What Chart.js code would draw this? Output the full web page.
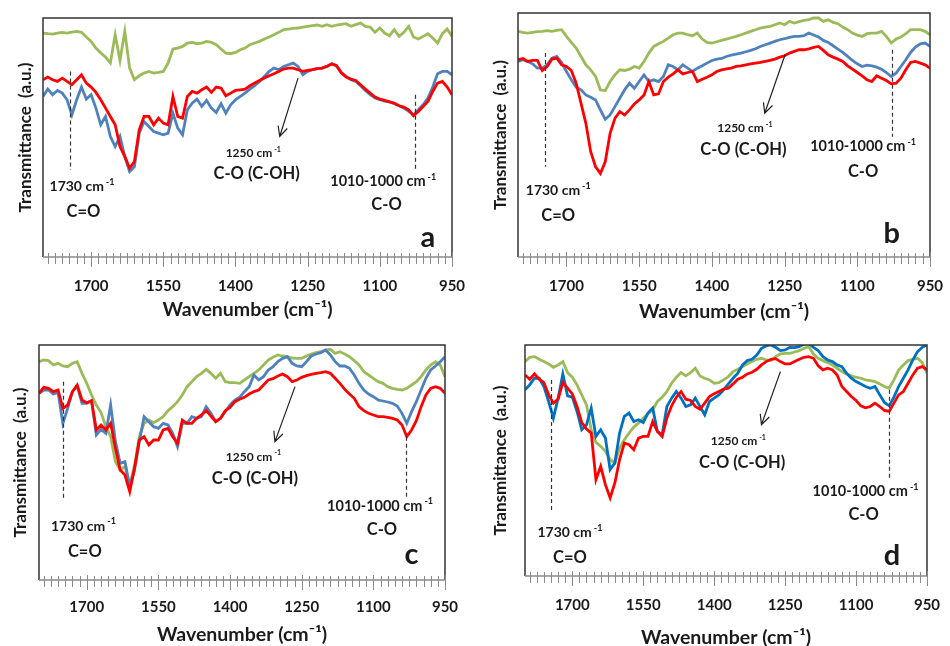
<!DOCTYPE html>
<html>
<head>
<meta charset="utf-8">
<script src="https://cdn.jsdelivr.net/npm/chart.js@4.4.0/dist/chart.umd.min.js"></script>
<style>
  body { margin: 0; background: #fff; }
  #wrap { position: relative; width: 950px; height: 646px; }
  .panel { position: absolute; width: 475px; height: 323px; }
</style>
</head>
<body>
<div id="wrap">
  <div class="panel" style="left:0;top:0"><canvas id="chartA" width="475" height="323"></canvas></div>
  <div class="panel" style="left:475px;top:0"><canvas id="chartB" width="475" height="323"></canvas></div>
  <div class="panel" style="left:0;top:323px"><canvas id="chartC" width="475" height="323"></canvas></div>
  <div class="panel" style="left:475px;top:323px"><canvas id="chartD" width="475" height="323"></canvas></div>
</div>
<script>
// wavenumber (cm-1) of every sample, left to right
const wavenumbers = [1800, 1790, 1780, 1770, 1760, 1750, 1740, 1730, 1720, 1710,
  1700, 1690, 1680, 1670, 1660, 1650, 1640, 1630, 1620, 1610,
  1600, 1590, 1580, 1570, 1560, 1550, 1540, 1530, 1520, 1510,
  1500, 1490, 1480, 1470, 1460, 1450, 1440, 1430, 1420, 1410,
  1400, 1390, 1380, 1370, 1360, 1350, 1340, 1330, 1320, 1310,
  1300, 1290, 1280, 1270, 1260, 1250, 1240, 1230, 1220, 1210,
  1200, 1190, 1180, 1170, 1160, 1150, 1140, 1130, 1120, 1110,
  1100, 1090, 1080, 1070, 1060, 1050, 1040, 1030, 1020, 1010,
  1000, 990, 980, 970, 960, 950];

const tickLabels = [1700, 1550, 1400, 1250, 1100, 950];

// transmittance, arbitrary units
const redA = [56.0, 56.8, 56.0, 55.5, 56.5, 55.5, 54.5, 56.0, 57.5, 55.0, 53.8, 52.2, 50.0, 47.5, 45.0, 42.5, 36.0, 33.0, 29.5, 31.5, 41.0, 45.0, 45.0, 42.5, 44.5, 43.0, 42.5, 51.0, 45.0, 44.5, 51.0, 52.5, 52.0, 53.0, 53.8, 52.2, 53.8, 53.5, 51.2, 52.0, 52.8, 53.0, 53.2, 54.2, 55.0, 55.8, 56.5, 57.2, 57.8, 58.5, 59.2, 59.5, 59.5, 59.0, 58.5, 58.8, 59.0, 59.3, 59.5, 60.0, 60.8, 60.2, 58.0, 56.8, 56.2, 55.8, 54.5, 53.2, 52.0, 50.8, 50.2, 49.8, 49.4, 49.0, 48.2, 47.8, 47.0, 45.2, 46.5, 48.0, 49.5, 52.5, 55.0, 55.5, 53.8, 51.5];
const blueA = [51.0, 53.2, 51.5, 52.8, 52.0, 50.0, 45.5, 50.0, 53.8, 50.2, 51.5, 47.5, 42.5, 45.0, 39.0, 36.0, 39.0, 33.0, 28.5, 30.0, 40.0, 43.5, 42.0, 40.5, 40.0, 39.5, 40.0, 46.0, 41.5, 39.5, 47.0, 49.0, 50.2, 48.0, 49.8, 47.5, 46.2, 48.8, 46.0, 48.5, 50.0, 51.0, 52.0, 53.2, 54.2, 55.5, 57.0, 58.5, 59.5, 59.0, 60.0, 60.5, 61.0, 60.0, 57.5, 58.5, 59.0, 59.3, 59.5, 60.0, 60.8, 60.2, 58.2, 57.0, 56.0, 55.5, 54.2, 52.8, 51.5, 50.5, 50.0, 49.6, 49.4, 48.8, 48.2, 47.5, 46.5, 45.5, 47.0, 48.5, 50.5, 53.8, 57.8, 58.5, 58.5, 57.5];
const greenA = [70.0, 69.8, 69.7, 70.0, 70.2, 70.0, 70.3, 70.5, 70.2, 68.8, 67.5, 65.5, 64.0, 62.8, 61.0, 69.5, 61.8, 70.5, 59.5, 56.0, 57.2, 58.0, 58.5, 58.0, 58.2, 58.5, 61.0, 65.2, 65.5, 66.0, 67.0, 67.2, 66.8, 67.0, 67.5, 67.2, 66.5, 65.2, 64.0, 63.8, 64.2, 65.0, 65.5, 66.5, 67.0, 67.5, 68.2, 68.8, 69.5, 70.2, 71.0, 71.2, 71.4, 71.5, 71.8, 72.0, 72.2, 72.4, 72.0, 72.5, 72.0, 72.4, 72.6, 72.8, 72.0, 72.5, 73.0, 72.0, 71.8, 70.2, 71.5, 70.0, 69.2, 71.0, 69.0, 70.2, 72.0, 68.8, 68.2, 69.0, 69.8, 68.5, 67.0, 69.8, 71.2, 69.0];

const redB = [62.0, 62.4, 61.5, 61.8, 61.8, 58.8, 60.0, 62.2, 62.5, 60.5, 60.0, 58.8, 55.0, 49.0, 43.0, 34.5, 30.0, 28.0, 31.5, 40.0, 44.5, 46.5, 45.5, 47.0, 48.8, 50.0, 51.5, 55.5, 51.5, 51.8, 55.5, 56.8, 57.8, 59.0, 57.8, 58.2, 58.5, 55.5, 56.2, 56.8, 57.5, 58.5, 59.0, 59.3, 59.5, 60.0, 60.2, 60.5, 60.8, 61.0, 61.2, 61.5, 61.8, 62.2, 62.8, 63.2, 64.0, 64.5, 65.0, 65.0, 65.3, 65.7, 66.0, 64.8, 63.5, 62.8, 62.2, 61.5, 60.2, 59.2, 58.2, 57.2, 56.0, 55.5, 57.2, 56.5, 55.8, 54.8, 55.0, 56.5, 59.0, 61.2, 61.5, 61.0, 60.5, 59.5];
const blueB = [61.5, 62.0, 61.5, 60.8, 59.5, 59.5, 60.5, 62.5, 63.0, 61.2, 58.5, 56.0, 53.8, 53.0, 51.5, 50.8, 50.0, 47.0, 44.2, 45.5, 48.0, 50.5, 53.0, 55.0, 53.5, 55.5, 57.5, 55.5, 56.0, 55.5, 57.0, 60.5, 60.0, 59.0, 60.5, 59.5, 58.5, 59.5, 60.2, 61.0, 61.8, 62.2, 62.4, 63.0, 63.4, 63.7, 64.0, 64.4, 64.8, 65.3, 66.0, 66.5, 67.0, 67.5, 68.0, 68.3, 68.7, 69.0, 69.0, 69.2, 70.0, 69.4, 68.8, 67.8, 67.2, 66.2, 65.2, 64.2, 63.0, 61.8, 60.8, 60.0, 60.4, 60.2, 59.8, 59.2, 58.2, 57.0, 58.0, 60.0, 62.0, 64.2, 65.8, 66.8, 67.0, 66.0];
const greenB = [70.5, 70.2, 70.0, 70.2, 70.4, 70.5, 70.7, 70.5, 70.8, 71.0, 69.0, 67.2, 65.5, 63.0, 60.5, 59.0, 57.0, 53.0, 52.8, 55.5, 57.5, 59.0, 58.8, 59.2, 60.0, 59.5, 61.5, 64.0, 66.0, 66.8, 67.5, 68.5, 69.5, 70.0, 70.0, 69.5, 69.2, 70.0, 68.2, 67.2, 67.0, 67.4, 67.8, 68.2, 68.6, 69.0, 69.5, 70.0, 70.5, 71.0, 71.5, 71.8, 72.0, 72.5, 73.0, 72.5, 73.5, 73.0, 73.4, 73.8, 74.0, 74.5, 74.5, 73.5, 74.0, 73.2, 72.8, 71.8, 71.0, 70.0, 69.4, 69.0, 69.8, 70.0, 70.0, 70.5, 69.0, 67.0, 68.2, 68.8, 69.8, 71.0, 71.0, 71.0, 70.5, 69.5];

const redC = [59.0, 60.8, 60.5, 59.5, 60.0, 54.5, 55.5, 59.5, 61.5, 57.0, 56.2, 56.8, 48.0, 49.5, 48.0, 50.0, 42.5, 36.0, 34.5, 29.5, 36.5, 45.0, 46.0, 43.5, 45.0, 45.0, 48.0, 48.5, 46.0, 44.0, 51.0, 50.0, 50.0, 51.5, 52.5, 53.8, 52.2, 50.5, 51.5, 53.8, 54.8, 56.5, 57.2, 57.8, 58.8, 59.5, 60.0, 61.5, 63.0, 63.4, 64.2, 64.8, 64.0, 62.5, 63.0, 63.8, 64.3, 64.7, 65.0, 65.2, 65.5, 65.0, 63.5, 62.0, 60.2, 58.8, 57.5, 55.0, 53.8, 53.0, 52.5, 52.0, 52.0, 51.8, 51.5, 51.0, 49.5, 46.0, 48.0, 50.8, 55.0, 58.5, 60.5, 61.0, 60.5, 59.0];
const blueC = [59.0, 60.0, 60.0, 58.8, 59.2, 50.0, 54.5, 59.5, 61.2, 56.0, 56.0, 56.8, 46.5, 48.2, 47.0, 55.5, 44.5, 38.0, 38.5, 31.0, 36.0, 44.5, 52.0, 50.5, 49.0, 48.5, 50.0, 49.5, 47.0, 43.0, 50.0, 50.0, 52.0, 51.5, 52.0, 55.0, 53.0, 50.5, 51.5, 53.5, 55.5, 57.0, 57.8, 59.5, 61.0, 64.5, 63.0, 64.0, 66.0, 67.0, 68.5, 69.5, 70.0, 68.0, 67.2, 67.0, 68.5, 70.2, 70.8, 71.2, 72.0, 70.5, 68.5, 67.2, 67.2, 66.5, 64.5, 62.0, 60.0, 58.8, 58.0, 57.0, 56.7, 56.4, 56.0, 55.2, 53.0, 50.0, 53.5, 56.5, 60.0, 63.5, 66.0, 67.2, 68.5, 70.0];
const greenC = [68.5, 69.0, 68.8, 67.5, 68.0, 67.2, 67.0, 68.0, 68.5, 65.0, 62.0, 58.5, 55.5, 53.2, 49.0, 46.0, 38.5, 36.0, 37.0, 31.5, 37.5, 46.0, 50.0, 51.0, 50.2, 51.0, 52.0, 53.8, 55.0, 56.5, 58.5, 61.0, 62.5, 64.0, 65.0, 66.2, 65.0, 63.5, 65.0, 62.5, 62.2, 62.2, 62.0, 63.0, 64.0, 65.0, 66.0, 67.5, 69.0, 69.8, 70.5, 70.2, 70.0, 69.6, 69.5, 69.5, 70.2, 70.8, 71.2, 71.5, 72.0, 72.2, 71.0, 71.5, 70.8, 70.0, 68.8, 67.5, 65.5, 64.5, 63.5, 62.5, 62.0, 61.0, 60.5, 60.2, 60.0, 60.5, 61.5, 62.5, 64.0, 66.0, 67.5, 68.5, 67.5, 64.0];

const redD = [64.5, 63.2, 64.8, 63.2, 62.2, 58.5, 56.0, 57.2, 62.2, 60.5, 58.8, 55.0, 50.2, 48.2, 47.0, 33.0, 37.0, 31.5, 27.5, 32.0, 39.0, 44.0, 43.5, 42.0, 45.5, 46.0, 46.0, 50.5, 47.5, 46.0, 51.5, 55.2, 57.8, 59.5, 57.2, 56.8, 55.0, 54.2, 56.0, 58.0, 58.8, 59.5, 60.2, 60.5, 61.8, 63.2, 63.8, 64.8, 65.3, 66.2, 67.5, 68.5, 69.2, 69.4, 68.5, 67.8, 67.8, 68.5, 69.2, 69.8, 70.0, 69.5, 67.2, 66.0, 66.5, 66.0, 64.5, 61.0, 59.5, 58.0, 56.8, 55.2, 54.6, 55.0, 56.0, 55.0, 53.8, 53.5, 56.0, 58.5, 59.5, 62.0, 64.5, 66.5, 67.0, 66.0];
const blueD = [60.0, 61.5, 63.5, 63.5, 61.0, 56.5, 51.5, 57.5, 64.8, 58.2, 57.8, 53.5, 48.0, 49.5, 54.5, 46.0, 48.0, 45.5, 36.0, 38.0, 47.0, 52.0, 53.0, 50.5, 51.0, 50.2, 53.0, 54.5, 47.5, 46.5, 55.0, 57.5, 59.5, 57.5, 55.0, 55.5, 57.5, 55.0, 52.5, 56.5, 57.5, 58.5, 60.0, 61.8, 63.5, 65.0, 67.5, 68.8, 69.2, 70.5, 72.5, 73.2, 73.5, 72.8, 71.8, 72.0, 72.8, 72.7, 73.0, 73.8, 74.0, 72.8, 71.8, 70.0, 69.0, 68.5, 67.5, 67.0, 65.0, 63.5, 62.5, 61.8, 61.0, 60.5, 61.0, 58.5, 56.2, 55.2, 57.8, 61.0, 63.5, 66.0, 69.0, 71.5, 72.8, 73.5];
const greenD = [68.5, 69.8, 70.0, 69.2, 68.5, 67.8, 66.8, 67.5, 68.5, 65.2, 63.8, 61.5, 58.5, 55.5, 48.0, 44.2, 43.0, 41.5, 39.0, 38.0, 42.5, 45.0, 47.0, 48.8, 50.0, 51.5, 52.8, 54.0, 56.5, 57.8, 59.5, 62.0, 63.8, 65.2, 64.2, 65.2, 66.5, 64.2, 63.5, 63.0, 62.0, 62.2, 63.0, 64.0, 65.5, 66.2, 67.0, 67.8, 68.5, 69.2, 69.5, 69.0, 68.8, 70.0, 70.8, 71.0, 71.0, 71.4, 71.8, 72.5, 73.0, 70.8, 69.5, 68.8, 68.2, 67.5, 66.5, 65.5, 64.8, 64.2, 63.8, 63.5, 63.0, 62.8, 62.5, 61.8, 61.0, 60.5, 63.0, 66.0, 67.5, 68.8, 69.2, 69.5, 68.2, 65.0];

const FONT = 'Lato, "Open Sans", sans-serif';

// x tick marks every 15 cm-1, labels only on the major ones
const tickValues = [];
for (let v = 950; v <= 1800; v += 15) tickValues.push(v);

const panels = [
  { id: 'chartA', letter: 'a', red: redA, blue: blueA, green: greenA, blueColor: '#4F81BD',
    box: { left: 43, right: 452, top: 18, bottom: 257 }, yMin: 2.9, yMax: 74.5,
    tickPad: 20, xTitlePad: 2, yTitlePad: 15,
    notes: { dash1: [1743, 58.5, 29.0], t1730: [1719, 24.0], c1: [1716, 16.5], t1250: [1363, 34.0], coh: [1356, 28.0],
             arrow: [1270, 56.5, 1308, 39.0], t1010: [1093, 25.5], c2: [1086, 18.5], dash2: [1027, 51.5, 29.0], letter: [1000, 8.8] } },
  { id: 'chartB', letter: 'b', red: redB, blue: blueB, green: greenB, blueColor: '#4F81BD',
    box: { left: 43, right: 455, top: 13, bottom: 257 }, yMin: 3.0, yMax: 76.0,
    tickPad: 20, xTitlePad: 0, yTitlePad: 15,
    notes: { dash1: [1745, 64.0, 30.0], t1730: [1717, 23.0], c1: [1717, 15.5], t1250: [1332, 41.5], coh: [1335, 35.0],
             arrow: [1249, 63.5, 1291, 46.0], t1010: [1088, 36.0], c2: [1088, 28.5], dash2: [1029, 65.0, 39.0], letter: [1029, 10.0] } },
  { id: 'chartC', letter: 'c', red: redC, blue: blueC, green: greenC, blueColor: '#4F81BD',
    box: { left: 39, right: 445, top: 22, bottom: 257 }, yMin: 3.0, yMax: 73.5,
    tickPad: 18, xTitlePad: 0, yTitlePad: 10,
    notes: { dash1: [1749, 62.5, 27.0], t1730: [1707, 19.2], c1: [1704, 11.5], t1250: [1351, 40.0], coh: [1348, 33.5],
             arrow: [1264, 61.0, 1306, 44.5], t1010: [1086, 25.2], c2: [1082, 18.0], dash2: [1032, 46.0, 28.0], letter: [1020, 10.5] } },
  { id: 'chartD', letter: 'd', red: redD, blue: blueD, green: greenD, blueColor: '#0070C0',
    box: { left: 50, right: 452, top: 22, bottom: 253 }, yMin: 4.0, yMax: 73.5,
    tickPad: 20, xTitlePad: -3, yTitlePad: 15,
    notes: { dash1: [1745, 63.0, 23.5], t1730: [1705, 17.0], c1: [1705, 9.5], t1250: [1349, 44.5], coh: [1341, 38.0],
             arrow: [1260, 65.5, 1300, 49.5], t1010: [1080, 29.5], c2: [1084, 22.5], dash2: [1031, 60.0, 33.5], letter: [1024, 10.0] } }
];

function supText(ctx, main, sup, cx, cy, size) {
  ctx.font = 'bold ' + size + 'px ' + FONT;
  const w1 = ctx.measureText(main).width;
  const small = Math.round(size * 0.62);
  ctx.font = 'bold ' + small + 'px ' + FONT;
  const w2 = ctx.measureText(sup).width;
  const x0 = cx - (w1 + w2 + 2) / 2;
  ctx.textAlign = 'left';
  ctx.textBaseline = 'middle';
  ctx.font = 'bold ' + size + 'px ' + FONT;
  ctx.fillText(main, x0, cy);
  ctx.font = 'bold ' + small + 'px ' + FONT;
  ctx.fillText(sup, x0 + w1 + 2, cy - size * 0.32);
}

const framePlugin = {
  id: 'frame',
  afterDatasetsDraw(chart, args, opts) {
    const { ctx, chartArea: a, scales: { x, y } } = chart;
    const n = opts.notes;
    const px = v => x.getPixelForValue(v);
    const py = v => y.getPixelForValue(v);
    ctx.save();

    // box round the plot
    ctx.strokeStyle = '#333';
    ctx.lineWidth = 1.5;
    ctx.beginPath();
    ctx.moveTo(a.left, a.bottom);
    ctx.lineTo(a.left, a.top);
    ctx.lineTo(a.right, a.top);
    ctx.lineTo(a.right, a.bottom);
    ctx.stroke();

    // x axis line and crossing tick marks
    ctx.strokeStyle = '#8a8a8a';
    ctx.beginPath();
    ctx.moveTo(a.left, a.bottom);
    ctx.lineTo(a.right, a.bottom);
    ctx.stroke();
    ctx.lineWidth = 1;
    x.ticks.forEach(t => {
      const tx = Math.round(px(t.value)) + 0.5;
      const major = tickLabels.includes(t.value);
      ctx.beginPath();
      ctx.moveTo(tx, a.bottom - (major ? 5 : 4));
      ctx.lineTo(tx, a.bottom + (major ? 10 : 7));
      ctx.stroke();
    });

    // dashed guides
    ctx.strokeStyle = '#333';
    ctx.lineWidth = 1.2;
    ctx.setLineDash([4, 3]);
    [n.dash1, n.dash2].forEach(d => {
      ctx.beginPath();
      ctx.moveTo(Math.round(px(d[0])) + 0.5, py(d[1]));
      ctx.lineTo(Math.round(px(d[0])) + 0.5, py(d[2]));
      ctx.stroke();
    });
    ctx.setLineDash([]);

    // arrow to the 1250 label
    const ax0 = px(n.arrow[0]), ay0 = py(n.arrow[1]);
    const ax1 = px(n.arrow[2]), ay1 = py(n.arrow[3]);
    ctx.strokeStyle = '#222';
    ctx.lineWidth = 1.2;
    ctx.beginPath();
    ctx.moveTo(ax0, ay0);
    ctx.lineTo(ax1, ay1);
    const ang = Math.atan2(ay1 - ay0, ax1 - ax0);
    ctx.moveTo(ax1 - 11 * Math.cos(ang - 0.45), ay1 - 11 * Math.sin(ang - 0.45));
    ctx.lineTo(ax1, ay1);
    ctx.lineTo(ax1 - 11 * Math.cos(ang + 0.45), ay1 - 11 * Math.sin(ang + 0.45));
    ctx.stroke();

    // labels
    ctx.fillStyle = '#1a1a1a';
    supText(ctx, '1730 cm', '-1', px(n.t1730[0]), py(n.t1730[1]), 14);
    supText(ctx, '1250 cm', '-1', px(n.t1250[0]), py(n.t1250[1]), 12);
    supText(ctx, '1010-1000 cm', '-1', px(n.t1010[0]), py(n.t1010[1]), 14.5);
    ctx.textAlign = 'center';
    ctx.textBaseline = 'middle';
    ctx.font = 'bold 16.5px ' + FONT;
    ctx.fillText('C=O', px(n.c1[0]), py(n.c1[1]));
    ctx.fillText('C-O (C-OH)', px(n.coh[0]), py(n.coh[1]));
    ctx.fillText('C-O', px(n.c2[0]), py(n.c2[1]));
    ctx.font = 'bold 29px ' + FONT;
    ctx.fillText(opts.letter, px(n.letter[0]), py(n.letter[1]));
    ctx.restore();
  }
};

function toPoints(values) {
  return wavenumbers.map((w, i) => ({ x: w, y: values[i] }));
}

panels.forEach(p => {
  new Chart(document.getElementById(p.id), {
    type: 'line',
    data: {
      datasets: [
        { data: toPoints(p.red), borderColor: '#FF0000' },
        { data: toPoints(p.blue), borderColor: p.blueColor },
        { data: toPoints(p.green), borderColor: '#9BBB59' }
      ]
    },
    options: {
      responsive: false,
      animation: false,
      layout: { padding: { top: p.box.top, right: 475 - p.box.right, left: 0, bottom: 0 } },
      elements: { point: { radius: 0 }, line: { borderWidth: 2.8, tension: 0 } },
      plugins: {
        legend: { display: false },
        tooltip: { enabled: false },
        frame: { notes: p.notes, letter: p.letter }
      },
      scales: {
        x: {
          type: 'linear', reverse: true, min: 950, max: 1800,
          afterBuildTicks: s => { s.ticks = tickValues.map(v => ({ value: v })); },
          afterFit: s => { s.height = 323 - p.box.bottom; },
          grid: { display: false, drawTicks: false },
          border: { display: false },
          ticks: {
            autoSkip: false, maxRotation: 0, padding: p.tickPad, color: '#1a1a1a',
            font: { family: FONT, size: 15, weight: 'bold' },
            callback: v => tickLabels.includes(v) ? String(v) : ''
          },
          title: {
            display: true, text: 'Wavenumber (cm\u207B\u00B9)', color: '#1a1a1a',
            font: { family: FONT, size: 19.5, weight: 'bold' },
            padding: { top: 0, bottom: p.xTitlePad }
          }
        },
        y: {
          min: p.yMin, max: p.yMax,
          afterFit: s => { s.width = p.box.left; },
          ticks: { display: false },
          grid: { display: false },
          border: { display: false },
          title: {
            display: true, text: 'Transmittance  (a.u.)', color: '#1a1a1a',
            font: { family: FONT, size: 17, weight: 'bold' },
            padding: { top: p.yTitlePad, bottom: 0 }
          }
        }
      }
    },
    plugins: [framePlugin]
  });
});
</script>
</body>
</html>
